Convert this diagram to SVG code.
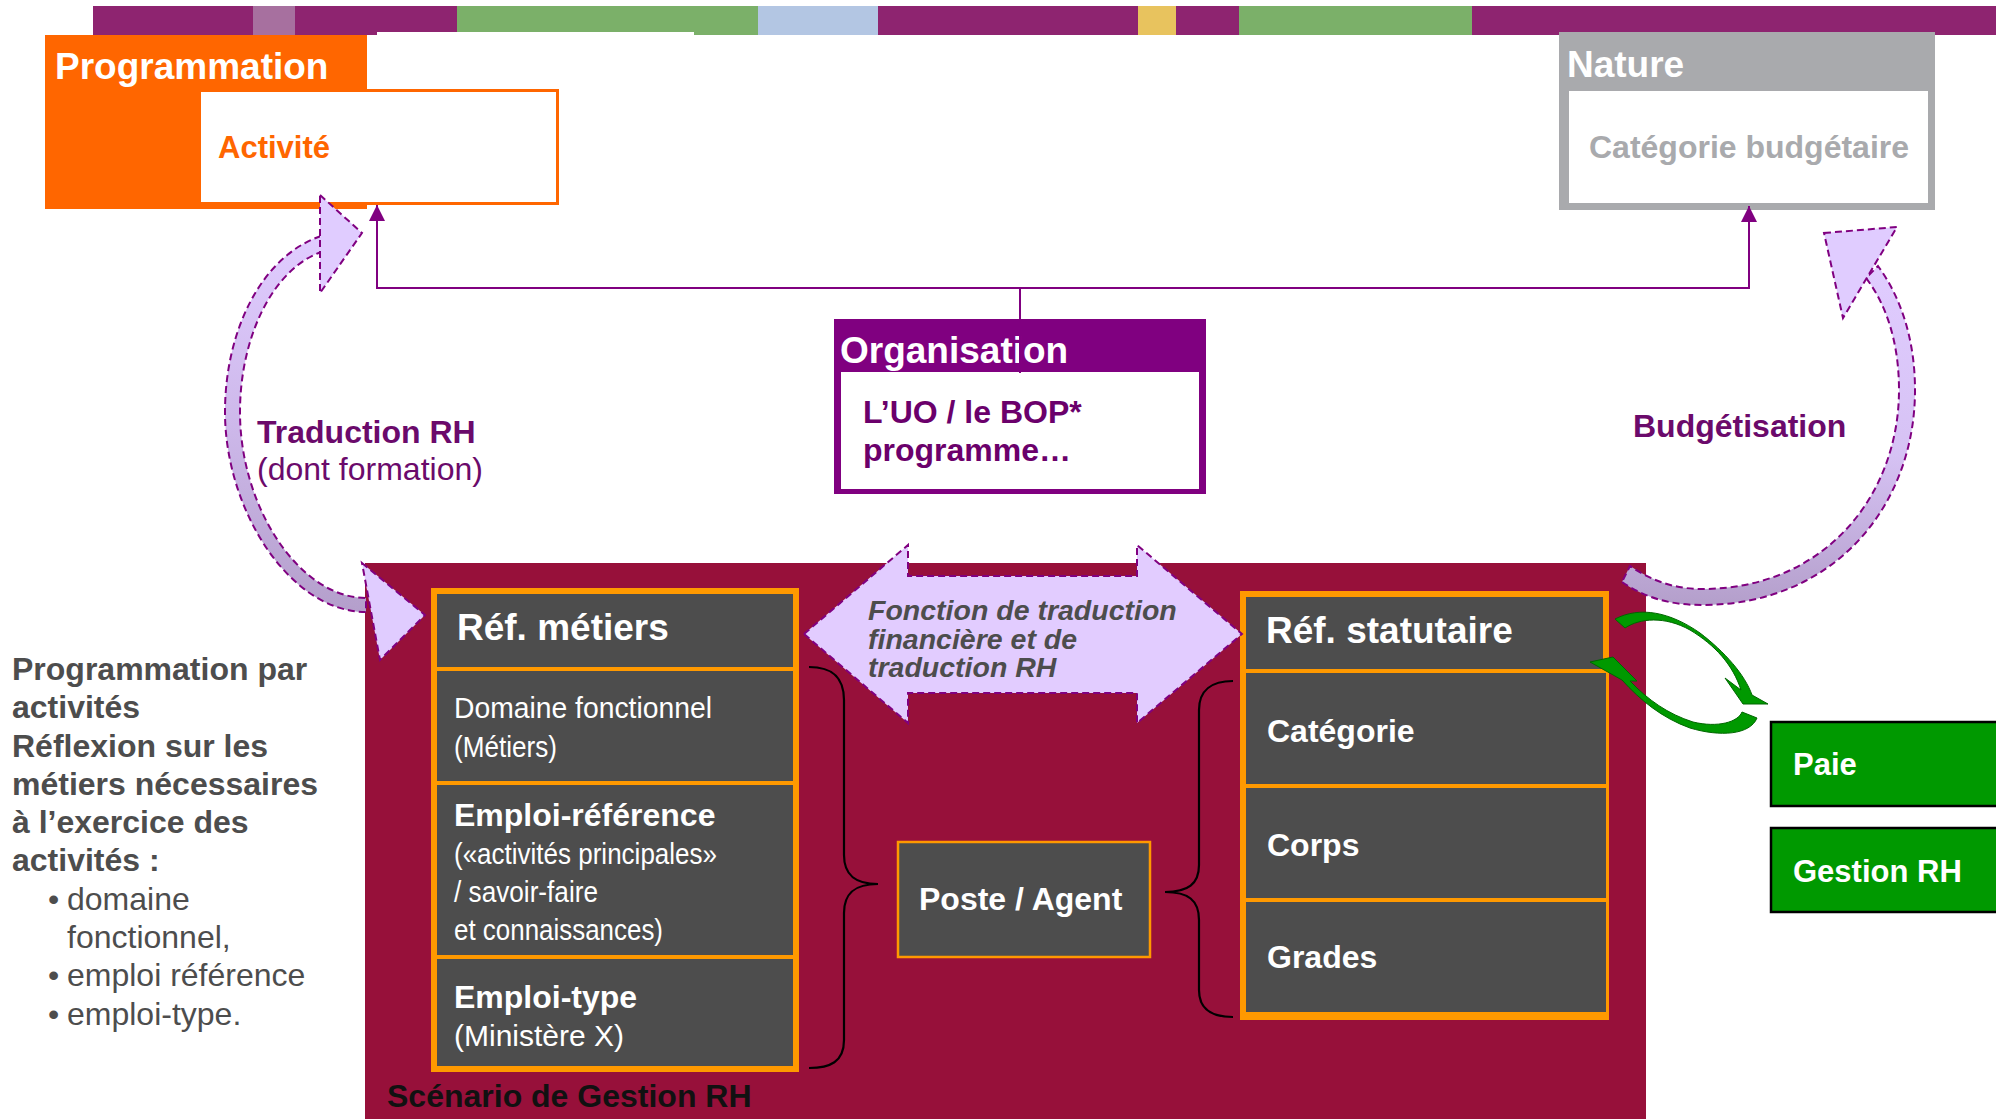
<svg xmlns="http://www.w3.org/2000/svg" width="1996" height="1119" viewBox="0 0 1996 1119">
  <defs>
    <style>
      text { font-family: "Liberation Sans", Arial, sans-serif; }
      .b { font-weight: bold; }
      .title { font-size: 37px; font-weight: bold; fill: #ffffff; }
      .cellB { font-size: 32px; font-weight: bold; fill: #ffffff; }
      .cellR { font-size: 30px; fill: #ffffff; }
      .lbl { font-size: 32px; fill: #6b0a6b; }
      .side { font-size: 32px; fill: #4d4d4d; }
      .barP { fill: #8e2470; }
      .cell { fill: #4d4d4d; }
      .dash { stroke: #800080; stroke-width: 2; stroke-dasharray: 7 4; }
      .link { fill: none; stroke: #800080; stroke-width: 2; }
      .brace { fill: none; stroke: #000000; stroke-width: 2.2; }
      .green { fill: #009900; stroke: #006600; stroke-width: 1; }
    </style>
    <marker id="tri" markerUnits="userSpaceOnUse" markerWidth="16" markerHeight="16" viewBox="0 0 16 16" refX="16" refY="8" orient="auto">
      <path d="M0,0L16,8L0,16Z" fill="#800080"/>
    </marker>
    <linearGradient id="bandL" gradientUnits="userSpaceOnUse" x1="0" y1="240" x2="0" y2="612">
      <stop offset="0" stop-color="#e0ccff"/>
      <stop offset="0.5" stop-color="#cdb8ea"/>
      <stop offset="1" stop-color="#b49fcb"/>
    </linearGradient>
    <linearGradient id="bandR" gradientUnits="userSpaceOnUse" x1="0" y1="270" x2="0" y2="605">
      <stop offset="0" stop-color="#e0ccff"/>
      <stop offset="0.55" stop-color="#d6c2f4"/>
      <stop offset="1" stop-color="#b49fcb"/>
    </linearGradient>
  </defs>

  <rect x="0" y="0" width="1996" height="1119" fill="#ffffff"/>

  <!-- coloured header strip -->
  <g id="header-strip">
    <rect class="barP" x="93" y="6" width="1903" height="29"/>
    <rect x="253" y="6" width="42" height="29" fill="#a7709f"/>
    <rect x="457" y="6" width="301" height="29" fill="#7bb069"/>
    <rect x="758" y="6" width="120" height="29" fill="#b3c6e3"/>
    <rect x="1138" y="6" width="38" height="29" fill="#e8c35e"/>
    <rect x="1239" y="6" width="233" height="29" fill="#7bb069"/>
    <rect x="377" y="32" width="317" height="4" fill="#ffffff"/>
  </g>

  <!-- Programmation / Activité -->
  <g id="programmation">
    <rect x="45" y="35" width="322" height="174" fill="#ff6600"/>
    <text class="title" x="55" y="79">Programmation</text>
    <rect x="199.5" y="90.5" width="358" height="113" fill="#ffffff" stroke="#ff6600" stroke-width="3"/>
    <text class="b" x="218" y="158" font-size="31" fill="#ff6600">Activité</text>
  </g>

  <!-- Nature / Catégorie budgétaire -->
  <g id="nature">
    <rect x="1559" y="32" width="376" height="178" fill="#a9aaad"/>
    <rect x="1569" y="91" width="359" height="112" fill="#ffffff"/>
    <text class="title" x="1567" y="77">Nature</text>
    <text class="b" x="1749" y="158" font-size="32" fill="#a9aaad" text-anchor="middle">Catégorie budgétaire</text>
  </g>

  <!-- Organisation -->
  <g id="organisation">
    <rect x="834" y="319" width="372" height="175" fill="#800080"/>
    <rect x="841" y="372" width="358" height="117" fill="#ffffff"/>
    <text class="title" x="840" y="363">Organisation</text>
    <text class="b" x="863" y="423" font-size="32" fill="#6b006b">L’UO / le BOP*</text>
    <text class="b" x="863" y="461" font-size="32" fill="#6b006b">programme…</text>
  </g>

  <!-- Scénario de Gestion RH panel -->
  <g id="scenario">
    <rect x="365" y="563" width="1281" height="556" fill="#97103a"/>
    <text class="b" x="387" y="1107" font-size="32" fill="#111111">Scénario de Gestion RH</text>
  </g>

  <!-- Réf. métiers column -->
  <g id="ref-metiers">
    <rect x="431" y="588" width="368" height="484" fill="#ff9900"/>
    <rect class="cell" x="437" y="594" width="356" height="73"/>
    <rect class="cell" x="437" y="671" width="356" height="110"/>
    <rect class="cell" x="437" y="785" width="356" height="170"/>
    <rect class="cell" x="437" y="959" width="356" height="107"/>
    <text class="title" x="457" y="640">Réf. métiers</text>
    <text class="cellR" x="454" y="718" textLength="258" lengthAdjust="spacingAndGlyphs">Domaine fonctionnel</text>
    <text class="cellR" x="454" y="757" textLength="103" lengthAdjust="spacingAndGlyphs">(Métiers)</text>
    <text class="cellB" x="454" y="826">Emploi-référence</text>
    <text class="cellR" x="454" y="864" textLength="263" lengthAdjust="spacingAndGlyphs">(«activités principales»</text>
    <text class="cellR" x="454" y="902" textLength="144" lengthAdjust="spacingAndGlyphs">/ savoir-faire</text>
    <text class="cellR" x="454" y="940" textLength="209" lengthAdjust="spacingAndGlyphs">et connaissances)</text>
    <text class="cellB" x="454" y="1008">Emploi-type</text>
    <text class="cellR" x="454" y="1046" font-size="31">(Ministère X)</text>
  </g>

  <!-- Réf. statutaire column -->
  <g id="ref-statutaire">
    <rect x="1240" y="591" width="369" height="429" fill="#ff9900"/>
    <rect class="cell" x="1246" y="597" width="357" height="72"/>
    <rect class="cell" x="1246" y="673" width="360" height="111"/>
    <rect class="cell" x="1246" y="788" width="360" height="110"/>
    <rect class="cell" x="1246" y="902" width="360" height="110"/>
    <text class="title" x="1266" y="643">Réf. statutaire</text>
    <text class="cellB" x="1267" y="742">Catégorie</text>
    <text class="cellB" x="1267" y="856">Corps</text>
    <text class="cellB" x="1267" y="968">Grades</text>
  </g>

  <!-- Poste / Agent -->
  <g id="poste-agent">
    <rect x="898" y="842" width="252" height="115" fill="#4d4d4d" stroke="#ff9900" stroke-width="2.5"/>
    <text class="cellB" x="919" y="910">Poste / Agent</text>
  </g>

  <!-- Paie and Gestion RH -->
  <g id="paie">
    <rect x="1771" y="722" width="240" height="84" fill="#009900" stroke="#000000" stroke-width="2.5"/>
    <text class="b" x="1793" y="775" font-size="31" fill="#ffffff">Paie</text>
  </g>
  <g id="gestion-rh">
    <rect x="1771" y="828" width="240" height="84" fill="#009900" stroke="#000000" stroke-width="2.5"/>
    <text class="b" x="1793" y="882" font-size="31" fill="#ffffff">Gestion RH</text>
  </g>

  <!-- side note -->
  <g id="note">
    <text class="side b" x="12" y="680">Programmation par</text>
    <text class="side b" x="12" y="718">activités</text>
    <text class="side b" x="12" y="757">Réflexion sur les</text>
    <text class="side b" x="12" y="795">métiers nécessaires</text>
    <text class="side b" x="12" y="833">à l’exercice des</text>
    <text class="side b" x="12" y="871">activités :</text>
    <text class="side" x="48" y="910">•</text>
    <text class="side" x="67" y="910">domaine</text>
    <text class="side" x="67" y="948">fonctionnel,</text>
    <text class="side" x="48" y="986">•</text>
    <text class="side" x="67" y="986">emploi référence</text>
    <text class="side" x="48" y="1025">•</text>
    <text class="side" x="67" y="1025">emploi-type.</text>
  </g>

  <!-- labels on the curved arrows -->
  <g id="labels">
    <text class="lbl b" x="257" y="443">Traduction RH</text>
    <text class="lbl" x="257" y="480" font-size="31.5">(dont formation)</text>
    <text class="lbl b" x="1633" y="437" font-size="31.5">Budgétisation</text>
  </g>

  <!-- connectors -->
  <g id="connectors">
    <path class="link" d="M1020,373 V288 H377 V205" marker-end="url(#tri)"/>
    <path class="link" d="M1020,288 H1749 V206" marker-end="url(#tri)"/>

    <!-- Traduction RH curved arrow -->
    <path class="dash" fill="url(#bandL)" d="M321,236 C262,256 225,330 225,412 C225,510 290,612 366,612 L366,598 C300,598 240,508 240,412 C240,338 272,270 321,252 Z"/>
    <polygon class="dash" fill="#e0ccff" points="320,195 362,233 320,293"/>
    <polygon class="dash" fill="#e0ccff" points="362,563 425,615 380,660"/>

    <!-- Budgétisation curved arrow -->
    <path class="dash" fill="url(#bandR)" d="M1622,582 C1648,600 1675,605 1702,605 C1835,605 1915,505 1915,390 C1915,338 1900,296 1878,266 L1866,278 C1886,304 1899,342 1899,390 C1899,495 1825,589 1702,589 C1678,589 1655,583 1630,566 Z"/>
    <polygon class="dash" fill="#e0ccff" points="1824,233 1897,227 1843,318"/>

    <!-- translation double arrow -->
    <polygon class="dash" fill="#e2ccff" points="804,634 908,545 908,576 1137,576 1137,545 1242,634 1137,723 1137,693 908,693 908,723"/>
    <text class="b" font-style="italic" font-size="28.5" fill="#4d4d4d">
      <tspan x="868" y="620">Fonction de traduction</tspan>
      <tspan x="868" y="649">financière et de</tspan>
      <tspan x="868" y="677">traduction RH</tspan>
    </text>

    <!-- braces around Poste / Agent -->
    <path class="brace" d="M809,667 C830,667 844,675 844,700 L844,855 C844,875 855,884 878,884 C855,884 844,893 844,913 L844,1040 C844,1062 830,1068 809,1068"/>
    <path class="brace" d="M1233,681 C1212,681 1199,690 1199,710 L1199,865 C1199,884 1188,892 1165,892 C1188,892 1199,900 1199,920 L1199,990 C1199,1010 1212,1017 1233,1017"/>

    <!-- exchange arrows with Paie -->
    <path class="green" d="M1615,619 C1640,606 1670,612 1700,633 C1725,652 1745,675 1752,695 L1768,704 L1743,704 L1725,678 L1741,690 C1733,665 1715,645 1690,630 C1665,616 1640,618 1625,628 Z"/>
    <path class="green" d="M1757,718 C1750,735 1720,737 1690,728 C1662,718 1640,700 1622,680 L1590,662 L1613,657 L1637,681 L1630,681 C1648,700 1668,714 1693,722 C1718,728 1738,722 1742,712 Z"/>
  </g>
</svg>
